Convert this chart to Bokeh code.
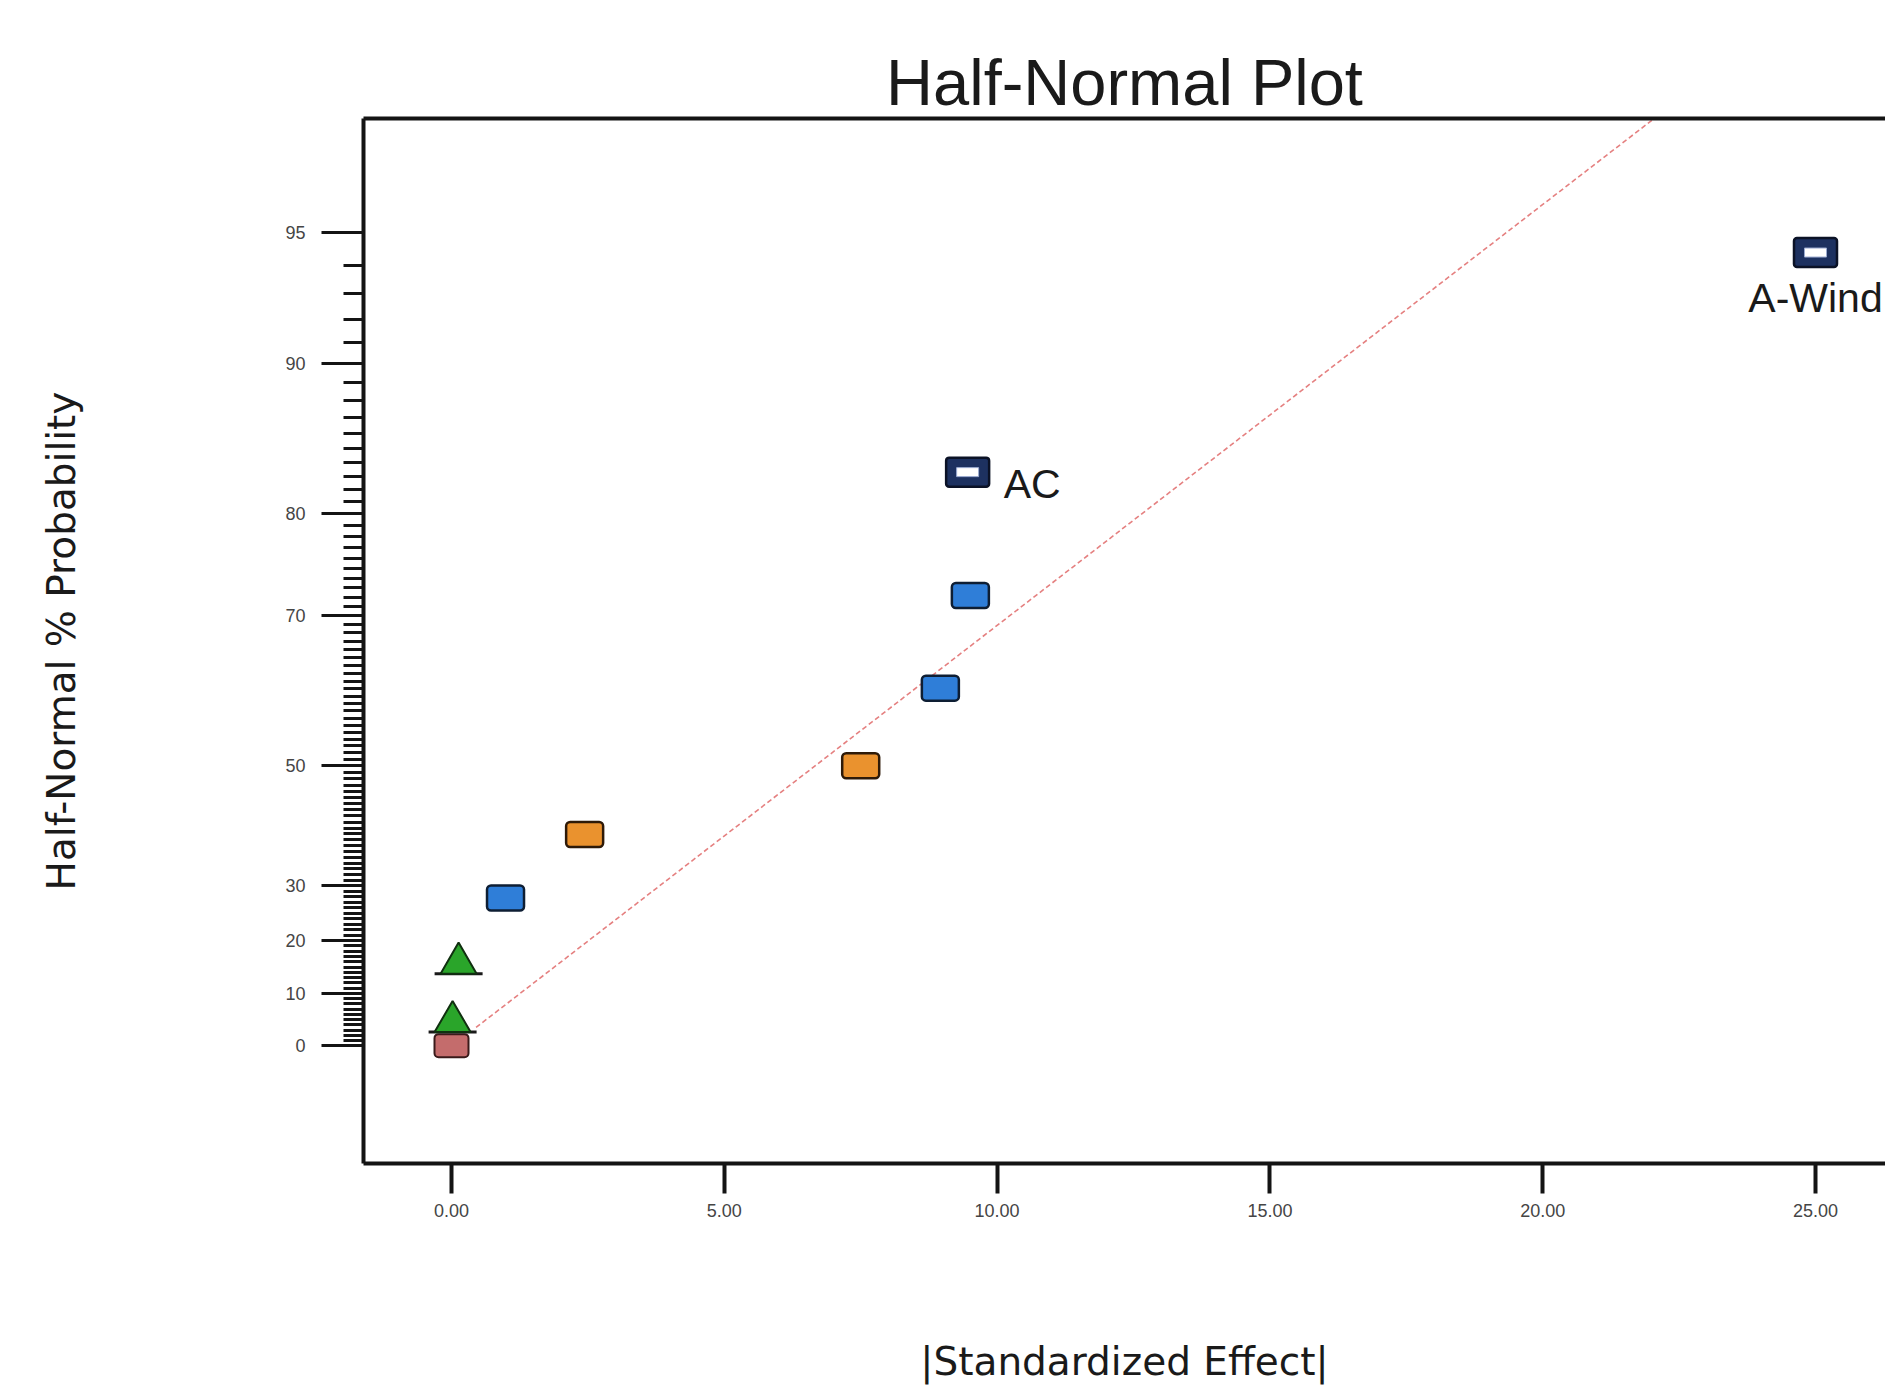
from statistics import NormalDist
from bokeh.plotting import figure
from bokeh.models import FixedTicker, LinearAxis, Range1d, PrintfTickFormatter
from bokeh.embed import file_html
from bokeh.resources import INLINE
from bokeh.core.properties import value

# ---------------- data ----------------
# |Standardized Effect| and Half-Normal % Probability for each term
navy_effect = [25.0, 9.46]
navy_pct = [94.4, 83.3]
navy_labels = ["A-Wind", "AC"]

blue_effect = [9.51, 8.96, 0.99]
blue_pct = [72.2, 61.1, 27.8]

orange_effect = [7.50, 2.44]
orange_pct = [50.0, 38.9]

green_effect = [0.13, 0.02]
green_pct = [16.7, 5.6]

pink_effect = [0.0]
pink_pct = [0.0]

ref_line_effect = [0.45, 24.0]
ref_line_pct = [3.5, 98.5]

x_tick_values = [0, 5, 10, 15, 20, 25]
y_major_pct = [0, 10, 20, 30, 50, 70, 80, 90, 95]
y_minor_pct = [p for p in range(1, 95) if p not in y_major_pct]

# ---------------- half-normal transform ----------------
_nd = NormalDist()


def hn(p):
    return _nd.inv_cdf(0.5 + p / 200.0)


def hn_list(ps):
    return [hn(p) for p in ps]


# ---------------- layout constants ----------------
W, H = 1885, 1389
BL, BT = 363, 118
FH = 1045
BB = H - BT - FH
FW = W - BL
X0, X1 = -1.613, 26.283
Y0, Y1 = -0.284, 2.234
px_x = (X1 - X0) / FW
px_y = (Y1 - Y0) / FH

FONT = "Liberation Sans"
LABEL_FONT = "DejaVu Sans"
INK = "#141414"

p = figure(width=W, height=H, output_backend="svg", toolbar_location=None,
           x_range=Range1d(X0, X1), y_range=Range1d(Y0, Y1),
           min_border_left=BL, min_border_right=0, min_border_top=BT,
           min_border_bottom=BB, title="Half-Normal Plot")
p.outline_line_color = None
p.grid.visible = False
p.background_fill_color = "white"
p.border_fill_color = "white"

p.title.text_font = FONT
p.title.text_font_size = "65px"
p.title.text_font_style = "normal"
p.title.text_color = "#1a1a1a"
p.title.align = "center"
p.title.standoff = 0
p.title.offset = 3

# x axis
xa = p.xaxis[0]
xa.ticker = FixedTicker(ticks=x_tick_values, minor_ticks=[])
xa.formatter = PrintfTickFormatter(format="%.2f")
xa.axis_line_width = 4
xa.axis_line_color = INK
xa.major_tick_line_width = 4
xa.major_tick_line_color = INK
xa.major_tick_out = 30
xa.major_tick_in = 0
xa.major_label_standoff = 10
xa.major_label_text_font = FONT
xa.major_label_text_font_size = "18px"
xa.major_label_text_color = "#454545"
xa.axis_label = "|Standardized Effect|"
xa.axis_label_text_font = LABEL_FONT
xa.axis_label_text_font_size = "39px"
xa.axis_label_text_font_style = "normal"
xa.axis_label_text_color = "#1a1a1a"
xa.axis_label_standoff = 119

# y axis
ya = p.yaxis[0]
ya.ticker = FixedTicker(ticks=hn_list(y_major_pct), minor_ticks=hn_list(y_minor_pct))
ya.major_label_overrides = {hn(v): str(v) for v in y_major_pct}
ya.axis_line_width = 4
ya.axis_line_color = INK
ya.major_tick_line_width = 3
ya.major_tick_line_color = INK
ya.major_tick_out = 42
ya.major_tick_in = 0
ya.minor_tick_line_width = 3
ya.minor_tick_line_color = INK
ya.minor_tick_out = 20
ya.minor_tick_in = 0
ya.major_label_standoff = 16
ya.major_label_text_font = FONT
ya.major_label_text_font_size = "18px"
ya.major_label_text_color = "#454545"
ya.axis_label = "Half-Normal % Probability"
ya.axis_label_text_font = LABEL_FONT
ya.axis_label_text_font_size = "39px"
ya.axis_label_text_font_style = "normal"
ya.axis_label_text_color = "#1a1a1a"
ya.axis_label_standoff = 198

# top frame line
top_axis = LinearAxis(ticker=FixedTicker(ticks=[]), axis_line_width=4, axis_line_color=INK,
                      major_tick_line_color=None, minor_tick_line_color=None,
                      major_tick_out=0, major_tick_in=0, minor_tick_out=0, minor_tick_in=0,
                      major_label_text_font_size="0px", major_label_standoff=0)
p.add_layout(top_axis, "above")

# reference line
p.line(ref_line_effect, hn_list(ref_line_pct), line_color="#e58080", line_width=1.6,
       line_dash="5 3")

# pink (bottom) square
p.rect(pink_effect, hn_list(pink_pct), width=34, height=23, width_units="screen",
       height_units="screen", fill_color="#c46c6c", line_color="#3a1a1a", line_width=2,
       border_radius=4)

# green triangles (error estimates) with their dark base line
TRI = 36
tri_h = TRI * 0.866
gz = hn_list(green_pct)
p.segment(x0=[e - 24 * px_x for e in green_effect], x1=[e + 24 * px_x for e in green_effect],
          y0=[z - (tri_h / 2) * px_y for z in gz], y1=[z - (tri_h / 2) * px_y for z in gz],
          line_color="#1a1a1a", line_width=3)
p.scatter(green_effect, [z - (tri_h / 6) * px_y for z in gz], marker="triangle", size=TRI,
          fill_color="#2aa52a", line_color="#103010", line_width=2)

# blue squares
p.rect(blue_effect, hn_list(blue_pct), width=37, height=25, width_units="screen",
       height_units="screen", fill_color="#2f7ed8", line_color="#0e1e33", line_width=2.5,
       border_radius=4)

# orange squares
p.rect(orange_effect, hn_list(orange_pct), width=37, height=25, width_units="screen",
       height_units="screen", fill_color="#ea922e", line_color="#2e1a08", line_width=2.5,
       border_radius=4)

# navy squares (significant terms) with white centre
nz = hn_list(navy_pct)
p.rect(navy_effect, nz, width=43, height=29, width_units="screen",
       height_units="screen", fill_color="#1d3160", line_color="#0b1226", line_width=2.5,
       border_radius=3)
p.rect(navy_effect, nz, width=22, height=9, width_units="screen",
       height_units="screen", fill_color="white", line_color="#9aaad0", line_width=1)

# term labels
p.text([navy_effect[0]], [nz[0]], text=[navy_labels[0]], text_font=value(FONT),
       text_font_size="41px", text_color="#1a1a1a", text_align="center",
       text_baseline="alphabetic", y_offset=45)
p.text([navy_effect[1]], [nz[1]], text=[navy_labels[1]], text_font=value(FONT),
       text_font_size="41px", text_color="#1a1a1a", text_align="left",
       text_baseline="alphabetic", x_offset=36, y_offset=12)

open("out.html", "w").write(file_html(p, INLINE))
